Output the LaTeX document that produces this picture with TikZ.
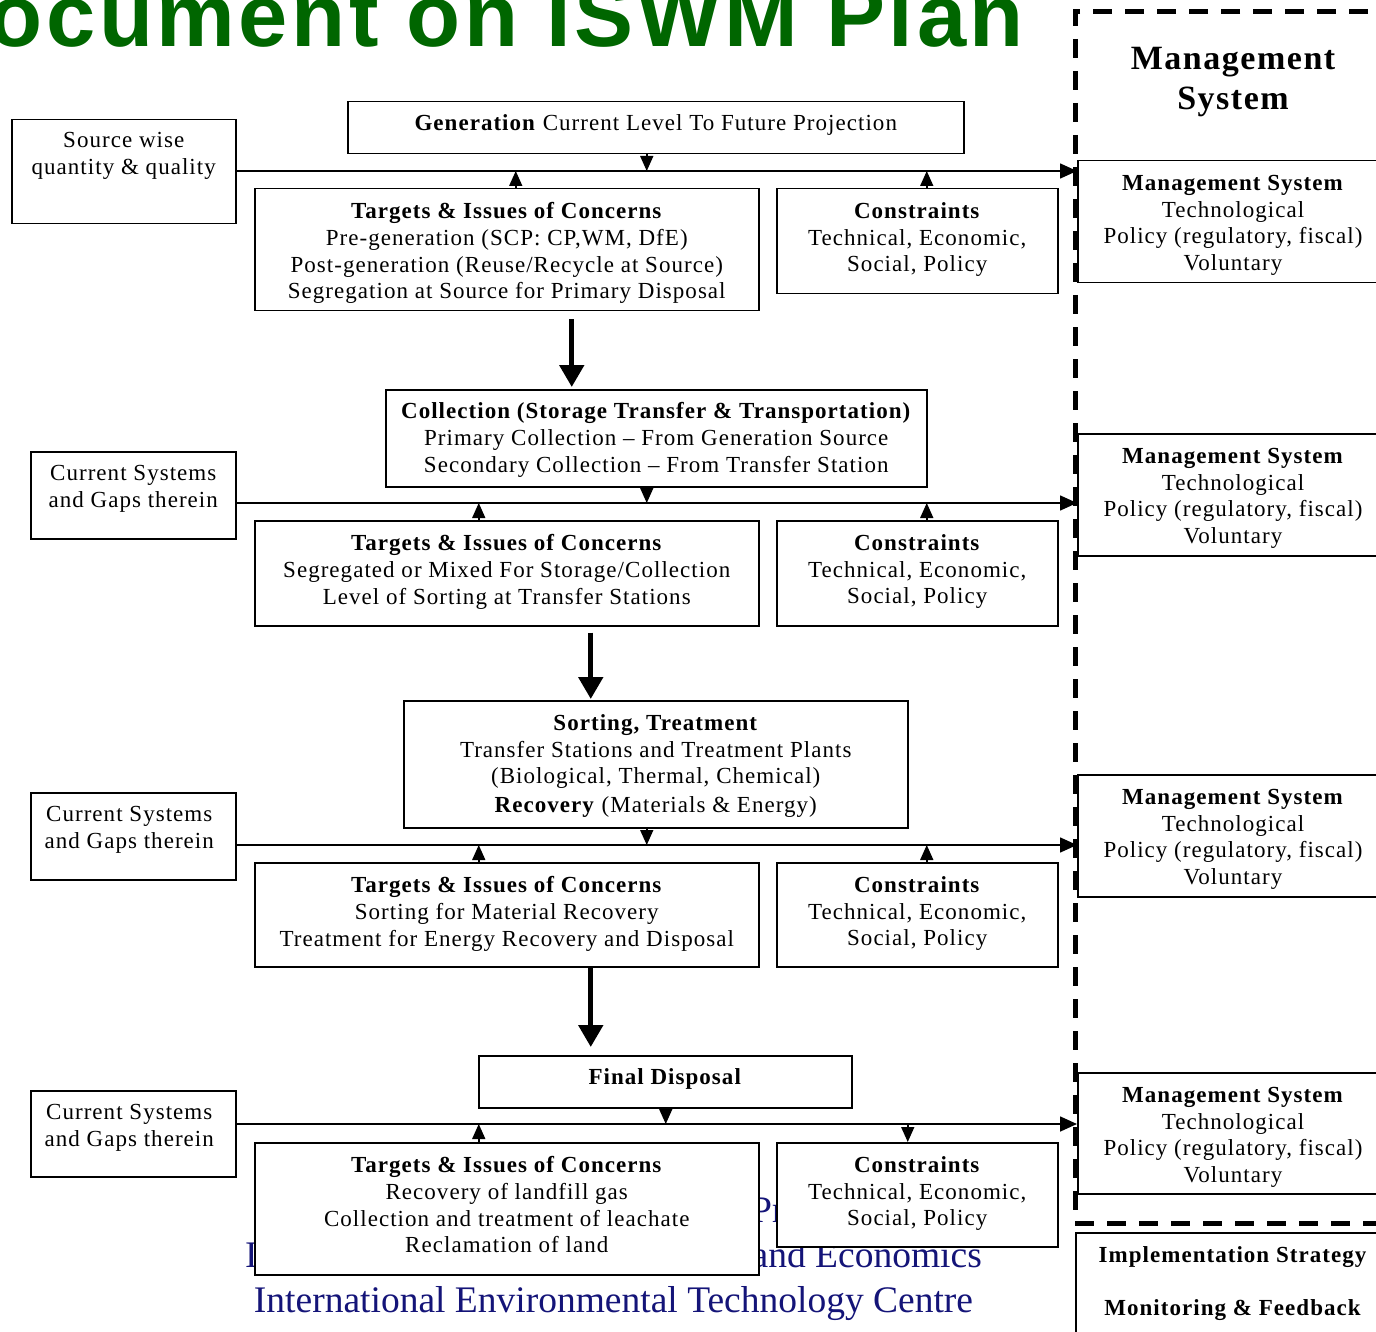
\documentclass[tikz,border=0pt]{standalone}
\usepackage{fontspec}
\setmainfont{Liberation Serif}
\newfontfamily\bodyf{Liberation Serif}[LetterSpace=4.5]
\newfontfamily\footf{Liberation Serif}
\newfontfamily\titlef{Liberation Sans}[LetterSpace=4]
\usetikzlibrary{arrows.meta}
\definecolor{titlegreen}{RGB}{0,102,0}
\definecolor{footblue}{RGB}{20,20,120}
\begin{document}
\begin{tikzpicture}[x=1pt,y=-1pt,
  box/.style={draw=black, line width=1.5pt, fill=white, inner sep=0pt, anchor=north west},
  txt/.style={anchor=north, align=center, inner sep=0pt, execute at begin node=\strut,
     font=\bodyf\fontsize{23}{26.6}\selectfont},
  conn/.style={line width=1.6pt, -{Triangle[width=13pt,length=15pt]}},
  endarrow/.style={line width=1.6pt, -{Triangle[width=15pt,length=17pt]}},
  bigarrow/.style={line width=5pt, -{Triangle[width=24pt,length=22pt]}},
  foot/.style={inner sep=0pt, text=footblue, font=\footf\fontsize{37.5}{44}\selectfont},
  dashedframe/.style={line width=5pt, dash pattern=on 19pt off 13pt}]
\useasboundingbox (0,0) rectangle (1376,1332);
\clip (0,0) rectangle (1376,1332);
% title
\node[anchor=base east, inner sep=0pt, text=titlegreen,
  font=\titlef\bfseries\fontsize{88.5}{92}\selectfont] (title) at (1024,47) {ocument on ISWM Plan};
% footer text (partly hidden behind boxes)
\node[foot, anchor=base west] (f1) at (751,1222) {Programme};
\node[foot, anchor=base west] (f2a) at (245,1267) {Industry};
\node[foot, anchor=base east] (f2b) at (982,1267) {and Economics};
\node[foot, anchor=base] (f3) at (613.5,1312) {International Environmental Technology Centre};
% boxes
\node[box, minimum width=616pt, minimum height=52pt] (gen) at (347,101) {};
\node[box, minimum width=224pt, minimum height=104pt] (src) at (11,119) {};
\node[box, minimum width=504pt, minimum height=122pt] (t1) at (254,188) {};
\node[box, minimum width=281pt, minimum height=105pt] (c1) at (776,188) {};
\node[box, minimum width=541pt, minimum height=97pt] (col) at (385,389) {};
\node[box, minimum width=205pt, minimum height=87pt] (cur2) at (30,451) {};
\node[box, minimum width=504pt, minimum height=105pt] (t2) at (254,520) {};
\node[box, minimum width=281pt, minimum height=105pt] (c2) at (776,520) {};
\node[box, minimum width=504pt, minimum height=127pt] (sort) at (403,700) {};
\node[box, minimum width=205pt, minimum height=87pt] (cur3) at (30,792) {};
\node[box, minimum width=504pt, minimum height=104pt] (t3) at (254,862) {};
\node[box, minimum width=281pt, minimum height=104pt] (c3) at (776,862) {};
\node[box, minimum width=373pt, minimum height=52pt] (fin) at (478,1055) {};
\node[box, minimum width=205pt, minimum height=86pt] (cur4) at (30,1090) {};
\node[box, minimum width=504pt, minimum height=132pt] (t4) at (254,1142) {};
\node[box, minimum width=281pt, minimum height=104pt] (c4) at (776,1142) {};
\node[box, minimum width=320pt, minimum height=122pt] (m1) at (1077,160) {};
\node[box, minimum width=320pt, minimum height=122pt] (m2) at (1077,433) {};
\node[box, minimum width=320pt, minimum height=122pt] (m3) at (1077,774) {};
\node[box, minimum width=320pt, minimum height=121pt] (m4) at (1077,1072) {};
\node[box, minimum width=320pt, minimum height=150pt] (impl) at (1075,1232) {};
% texts
\node[txt] (gent) at ([yshift=-11pt]gen.north) {\textbf{Generation} Current Level To Future Projection};
\node[txt] (srct) at ([yshift=-13.5pt]src.north) {Source wise\\quantity \& quality};
\node[txt] (t1t) at ([yshift=-14.5pt]t1.north) {\textbf{Targets \& Issues of Concerns}\\Pre-generation (SCP: CP,WM, DfE)\\Post-generation (Reuse/Recycle at Source)\\Segregation at Source for Primary Disposal};
\node[txt] (c1t) at ([yshift=-14.5pt]c1.north) {\textbf{Constraints}\\Technical, Economic,\\Social, Policy};
\node[txt] (colt) at ([yshift=-13.5pt]col.north) {\textbf{Collection (Storage Transfer \& Transportation)}\\Primary Collection – From Generation Source\\Secondary Collection – From Transfer Station};
\node[txt] (cur2t) at ([yshift=-14.5pt]cur2.north) {Current Systems\\and Gaps therein};
\node[txt] (t2t) at ([yshift=-14.5pt]t2.north) {\textbf{Targets \& Issues of Concerns}\\Segregated or Mixed For Storage/Collection\\Level of Sorting at Transfer Stations};
\node[txt] (c2t) at ([yshift=-14.5pt]c2.north) {\textbf{Constraints}\\Technical, Economic,\\Social, Policy};
\node[txt] (sortt) at ([yshift=-14.5pt]sort.north) {\textbf{Sorting, Treatment}\\Transfer Stations and Treatment Plants\\(Biological, Thermal, Chemical)\\[2pt]\textbf{Recovery} (Materials \& Energy)};
\node[txt] (cur3t) at ([xshift=-4pt,yshift=-14.5pt]cur3.north) {Current Systems\\and Gaps therein};
\node[txt] (t3t) at ([yshift=-14.5pt]t3.north) {\textbf{Targets \& Issues of Concerns}\\Sorting for Material Recovery\\Treatment for Energy Recovery and Disposal};
\node[txt] (c3t) at ([yshift=-14.5pt]c3.north) {\textbf{Constraints}\\Technical, Economic,\\Social, Policy};
\node[txt] (fint) at ([yshift=-11pt]fin.north) {\textbf{Final Disposal}};
\node[txt] (cur4t) at ([xshift=-4pt,yshift=-14.5pt]cur4.north) {Current Systems\\and Gaps therein};
\node[txt] (t4t) at ([yshift=-14.5pt]t4.north) {\textbf{Targets \& Issues of Concerns}\\Recovery of landfill gas\\Collection and treatment of leachate\\Reclamation of land};
\node[txt] (c4t) at ([yshift=-14.5pt]c4.north) {\textbf{Constraints}\\Technical, Economic,\\Social, Policy};
\foreach \m in {m1,m2,m3,m4}{
  \node[txt] (\m t) at ([xshift=156pt,yshift=-15pt]\m.north west) {\textbf{Management System}\\Technological\\Policy (regulatory, fiscal)\\Voluntary};
}
\node[txt] (implt) at ([xshift=158pt,yshift=-14pt]impl.north west) {\textbf{Implementation Strategy}\\[27pt]\textbf{Monitoring \& Feedback}};
\node[anchor=north, align=center, inner sep=0pt, execute at begin node=\strut,
  font=\bodyf\bfseries\fontsize{34}{40.5}\selectfont] (mtitle) at (1233,47) {Management\\System};
% dashed frame
\draw[dashedframe] (1400,12) -- (1075,12) -- (1075,1223) -- (1400,1223);
% connector lines
\coordinate (L1) at (1077,171);
\coordinate (L2) at (1077,503);
\coordinate (L3) at (1077,845);
\coordinate (L4) at (1077,1124);
\draw[endarrow] (src.east |- L1) -- (L1);
\draw[endarrow] (cur2.east |- L2) -- (L2);
\draw[endarrow] (cur3.east |- L3) -- (L3);
\draw[endarrow] (cur4.east |- L4) -- (L4);
% small arrows row 1
\coordinate (g1) at ([xshift=-9pt]gen.south);
\coordinate (a1) at ([xshift=9pt]t1.north);
\coordinate (b1) at ([xshift=9.5pt]c1.north);
\draw[conn] (g1) -- (g1 |- L1);
\draw[conn] (a1) -- (a1 |- L1);
\draw[conn] (b1) -- (b1 |- L1);
% row 2
\coordinate (g2) at ([xshift=-9.5pt]col.south);
\coordinate (a2) at ([xshift=-28pt]t2.north);
\coordinate (b2) at ([xshift=9.5pt]c2.north);
\draw[conn] (g2) -- (g2 |- L2);
\draw[conn] (a2) -- (a2 |- L2);
\draw[conn] (b2) -- (b2 |- L2);
% row 3
\coordinate (g3) at ([xshift=-9pt]sort.south);
\coordinate (a3) at ([xshift=-28pt]t3.north);
\coordinate (b3) at ([xshift=9.5pt]c3.north);
\draw[conn] (g3) -- (g3 |- L3);
\draw[conn] (a3) -- (a3 |- L3);
\draw[conn] (b3) -- (b3 |- L3);
% row 4
\coordinate (g4) at ([xshift=0.5pt]fin.south);
\coordinate (a4) at ([xshift=-28pt]t4.north);
\coordinate (b4) at ([xshift=-9.5pt]c4.north);
\draw[conn] (g4) -- (g4 |- L4);
\draw[conn] (a4) -- (a4 |- L4);
\draw[conn] (b4 |- L4) -- (b4);
% big arrows
\draw[bigarrow] ([xshift=65pt,yshift=-8pt]t1.south) -- ([xshift=-84.5pt,yshift=2pt]col.north);
\draw[bigarrow] ([xshift=84pt,yshift=-6pt]t2.south) -- ([xshift=-65pt,yshift=1pt]sort.north);
\draw[bigarrow] ([xshift=84pt]t3.south) -- ([xshift=-74.5pt,yshift=8pt]fin.north);
\end{tikzpicture}
\end{document}
